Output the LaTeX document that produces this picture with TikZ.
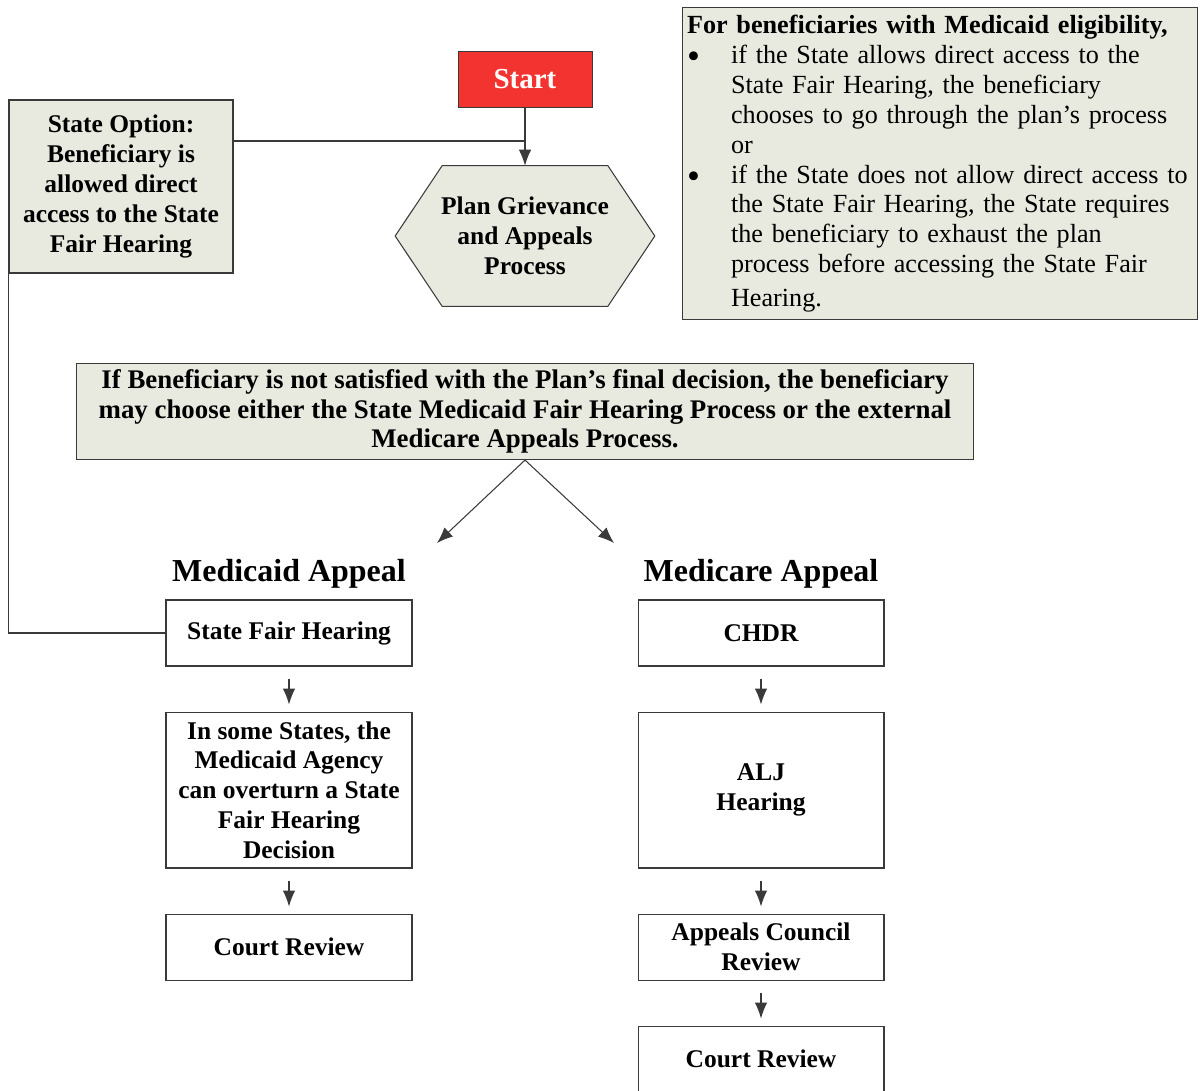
\documentclass[tikz,border=0pt]{standalone}
\usepackage{fontspec}
\setmainfont{Liberation Serif}
\usetikzlibrary{shapes.geometric, arrows.meta, positioning, backgrounds}
\definecolor{panelgray}{HTML}{E9EADF}
\definecolor{startred}{HTML}{F2332F}
\definecolor{edgegray}{HTML}{3A3A3A}

\newcommand{\boxfont}{\fontsize{14.5}{17}\selectfont\bfseries}
\newcommand{\notebullet}{\makebox[0.88cm][l]{\raisebox{-0.45ex}[0pt][0pt]{\fontsize{21}{17}\selectfont\textbullet}}}
\newcommand{\noteindent}{\hspace*{0.88cm}}

\begin{document}
\begin{tikzpicture}[x=0.02cm, y=-0.02cm, node distance=0.9cm]
\tikzstyle{panel} = [rectangle, draw=edgegray, fill=panelgray, line width=0.6pt, align=center, font=\boxfont]
\tikzstyle{stagebox} = [rectangle, draw=edgegray, fill=white, line width=0.6pt, minimum width=4.92cm, minimum height=1.32cm, align=center, font=\boxfont]
\tikzstyle{link} = [draw=edgegray, line width=0.6pt]
\tikzstyle{flowarrow} = [link, -{Latex[length=0.32cm, width=0.25cm]}]
\tikzstyle{heading} = [font=\fontsize{18.2}{21}\selectfont\bfseries]

\useasboundingbox (0,0) rectangle (1200,1091);

% top part
\node (start) [rectangle, draw=edgegray, fill=startred, text=white, minimum width=2.68cm, minimum height=1.12cm, font=\fontsize{16.5}{20}\selectfont\bfseries] at (525,79) {Start};
\node (plan) [minimum width=5.18cm, minimum height=2.8cm, align=center, font=\boxfont] at (525,236) {Plan Grievance\\and Appeals\\Process};
\begin{scope}[on background layer]
\draw[link, fill=panelgray] (plan.west) -- ([xshift=0.94cm]plan.north west) -- ([xshift=-0.94cm]plan.north east) -- (plan.east) -- ([xshift=-0.94cm]plan.south east) -- ([xshift=0.94cm]plan.south west) -- cycle;
\end{scope}
\node (option) [panel, minimum width=4.48cm, minimum height=3.46cm] at (121,186.5) {State Option:\\Beneficiary is\\allowed direct\\access to the State\\Fair Hearing};
\node (note) [panel, align=left, text width=10.12cm, minimum height=6.26cm, inner xsep=0.1cm, inner ysep=0.05cm, font=\fontsize{14.9}{17}\selectfont] at (940,163.5) {\textbf{For beneficiaries with Medicaid eligibility,}\\
\notebullet if the State allows direct access to the\\
\noteindent State Fair Hearing, the beneficiary\\
\noteindent chooses to go through the plan's process\\
\noteindent or\\
\notebullet if the State does not allow direct access to\\
\noteindent the State Fair Hearing, the State requires\\
\noteindent the beneficiary to exhaust the plan\\
\noteindent process before accessing the State Fair\\[2pt]
\noteindent Hearing.};
\node (choice) [panel, minimum width=17.96cm, minimum height=1.82cm, font=\fontsize{15.3}{17}\selectfont\bfseries] at (525,411.5) {If Beneficiary is not satisfied with the Plan's final decision, the beneficiary\\may choose either the State Medicaid Fair Hearing Process or the external\\Medicare Appeals Process.};

% Medicaid column
\node (sfh) [stagebox] at (289,633) {State Fair Hearing};
\node (agency) [stagebox, below=of sfh, minimum height=3.12cm] {In some States, the\\Medicaid Agency\\can overturn a State\\Fair Hearing\\Decision};
\node (court) [stagebox, below=of agency] {Court Review};
\node (medicaidhead) [heading, above=0.1cm of sfh] {Medicaid Appeal};

% Medicare column
\node (chdr) [stagebox] at (761,633) {CHDR};
\node (alj) [stagebox, below=of chdr, minimum height=3.12cm] {ALJ\\Hearing};
\node (council) [stagebox, below=of alj] {Appeals Council\\Review};
\node (medicarecourt) [stagebox, below=of council] {Court Review};
\node (medicarehead) [heading, above=0.1cm of chdr] {Medicare Appeal};

\coordinate (join) at (525,141);
\coordinate (medicaidend) at (437,543);
\coordinate (medicareend) at (614,543);

\draw[flowarrow] (start) -- (plan);
\draw[link] (option.east |- join) -- (join);
\draw[link] (option.south west) |- (sfh.west);
\draw[flowarrow] (choice.south) -- (medicaidend);
\draw[flowarrow] (choice.south) -- (medicareend);

\draw[flowarrow] ([yshift=-0.24cm]sfh.south) -- ([yshift=0.14cm]agency.north);
\draw[flowarrow] ([yshift=-0.24cm]agency.south) -- ([yshift=0.14cm]court.north);
\draw[flowarrow] ([yshift=-0.24cm]chdr.south) -- ([yshift=0.14cm]alj.north);
\draw[flowarrow] ([yshift=-0.24cm]alj.south) -- ([yshift=0.14cm]council.north);
\draw[flowarrow] ([yshift=-0.24cm]council.south) -- ([yshift=0.14cm]medicarecourt.north);

\end{tikzpicture}
\end{document}
